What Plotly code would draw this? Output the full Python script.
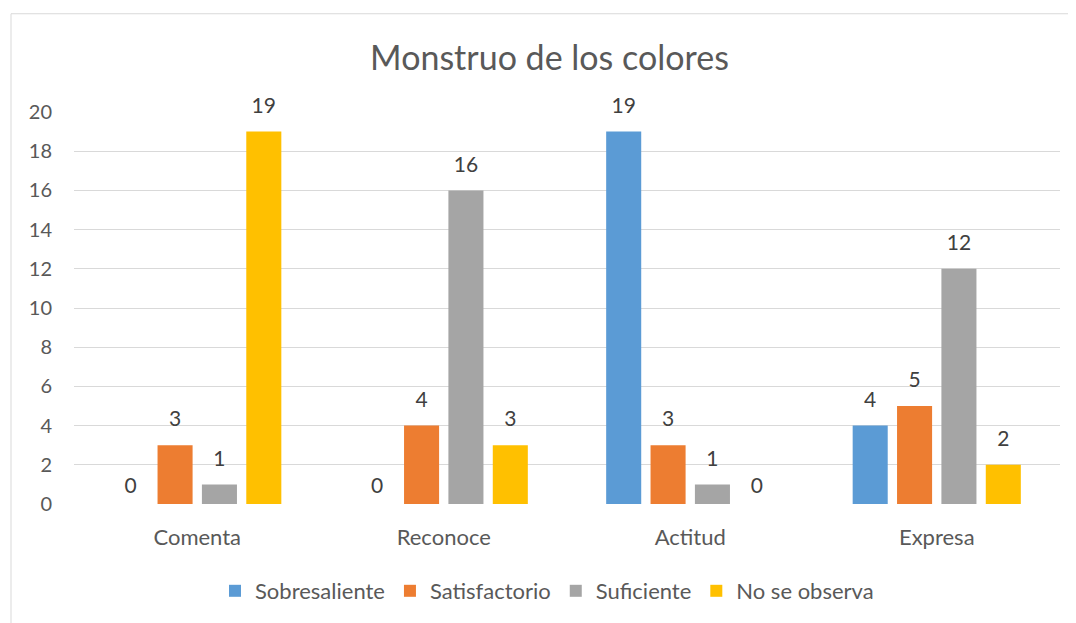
import plotly.graph_objects as go

categories = ["Comenta", "Reconoce", "Actitud", "Expresa"]
series_names = ["Sobresaliente", "Satisfactorio", "Suficiente", "No se observa"]
sobresaliente = [0, 0, 19, 4]
satisfactorio = [3, 4, 3, 5]
suficiente = [1, 16, 1, 12]
no_se_observa = [19, 3, 0, 2]
y_ticks = [0, 2, 4, 6, 8, 10, 12, 14, 16, 18, 20]

colors = ["#5B9BD5", "#ED7D31", "#A5A5A5", "#FFC000"]
values = [sobresaliente, satisfactorio, suficiente, no_se_observa]

FONT = "Lato"
OFF = 8  # page body margin offset
W, H = 1076 - OFF, 623 - OFF
L, R, T, B = 74 - OFF, 16, 112 - OFF, 118
pw, ph = W - L - R, H - T - B
BARGAP = 0.28

fig = go.Figure()
for name, vals, col in zip(series_names, values, colors):
    fig.add_trace(go.Bar(
        x=categories, y=vals, name=name,
        marker=dict(color=col, line=dict(width=0)),
        hoverinfo="skip",
    ))
# data labels, grouped the same way as the bars
for name, vals in zip(series_names, values):
    fig.add_trace(go.Scatter(
        x=categories, y=vals, mode="markers+text",
        text=[str(v) for v in vals], textposition="top center",
        textfont=dict(family=FONT, size=21, color="#404040"),
        marker=dict(size=[8 if v == 0 else 20 for v in vals], opacity=0),
        showlegend=False, hoverinfo="skip", cliponaxis=False,
    ))

def px2paper_x(px):
    return (px - OFF - L) / pw

def px2paper_y(py):
    return (H - B - (py - OFF)) / ph

# chart-area border (only left and top edges fall inside the picture)
fig.add_shape(type="rect", xref="paper", yref="paper",
              x0=px2paper_x(11), x1=px2paper_x(1090),
              y0=px2paper_y(640), y1=px2paper_y(13.5),
              line=dict(color="#D9D9D9", width=1), fillcolor="rgba(0,0,0,0)", layer="below")

fig.update_layout(
    width=W, height=H,
    margin=dict(l=L, r=R, t=T, b=B, pad=0),
    paper_bgcolor="white", plot_bgcolor="white",
    barmode="group", bargap=BARGAP, bargroupgap=0.21,
    scattermode="group", scattergap=BARGAP,
    title=dict(text="Monstruo de los colores", x=px2paper_x(549.5), xanchor="center", xref="paper",
               y=1 - (58 - OFF) / H, yanchor="middle",
               font=dict(family=FONT, size=34, color="#595959")),
    font=dict(family=FONT, size=20, color="#595959"),
    showlegend=True,
    legend=dict(orientation="h", x=0.5 - 20 / pw, xanchor="center",
                y=px2paper_y(591), yanchor="middle",
                font=dict(family=FONT, size=22, color="#595959"),
                itemclick=False, traceorder="normal"),
)
fig.update_yaxes(range=[0, 20], tickvals=y_ticks, ticktext=[str(t) for t in y_ticks],
                 showgrid=True, gridcolor="#D9D9D9", gridwidth=1.3,
                 zeroline=False, showline=False, ticks="",
                 ticklabelstandoff=21,
                 tickfont=dict(family=FONT, size=20, color="#595959"))
fig.update_xaxes(showgrid=False, showline=False, zeroline=False, ticks="",
                 ticklabelstandoff=18,
                 tickfont=dict(family=FONT, size=22, color="#595959"))

fig.write_html("out.html")
